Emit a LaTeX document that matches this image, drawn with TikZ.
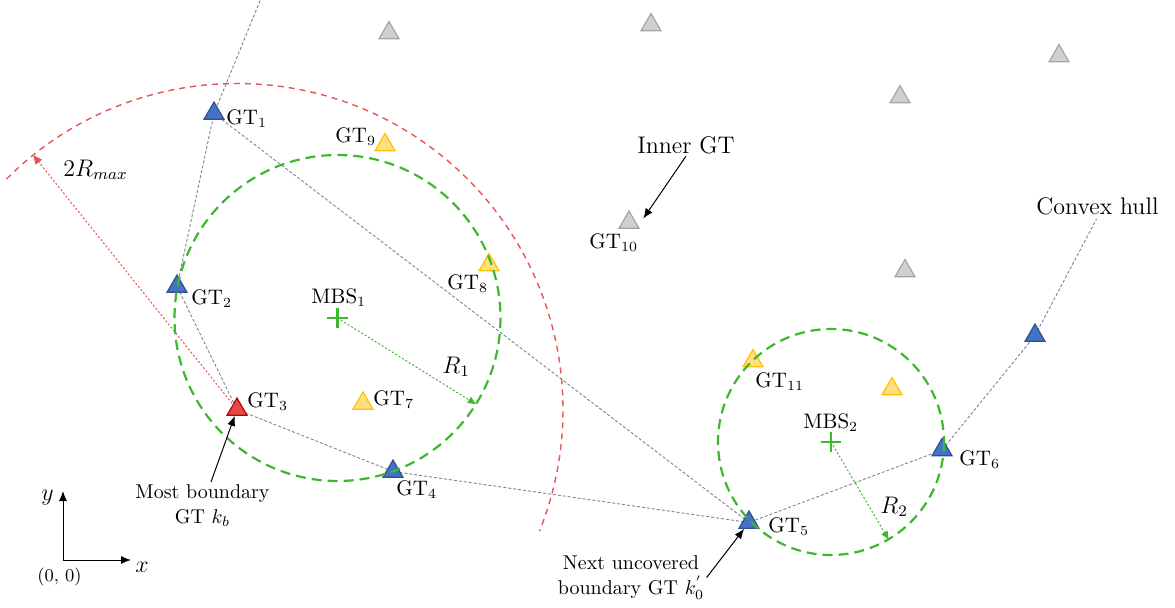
\documentclass[tikz,border=0pt]{standalone}
\usetikzlibrary{shapes.geometric,arrows.meta,calc,backgrounds}
\definecolor{gtblue}{HTML}{4472C4}
\definecolor{gtblueD}{HTML}{2F528F}
\definecolor{gtred}{HTML}{E04B4B}
\definecolor{gtredD}{HTML}{C00000}
\definecolor{gtyel}{HTML}{FFDF80}
\definecolor{gtyelD}{HTML}{FFC000}
\definecolor{gtgray}{HTML}{D0D0D0}
\definecolor{gtgrayD}{HTML}{A5A5A5}
\definecolor{mgreen}{HTML}{3DB82E}
\definecolor{rarc}{HTML}{E65555}
\definecolor{hull}{HTML}{77849A}
\begin{document}
\begin{tikzpicture}[x=0.5pt,y=-0.5pt,
  tri/.style={regular polygon, regular polygon sides=3, minimum size=11.5pt, inner sep=0pt, line width=0.6pt},
  blueT/.style={tri, fill=gtblue, draw=gtblueD},
  redT/.style={tri, fill=gtred, draw=gtredD},
  yelT/.style={tri, fill=gtyel, draw=gtyelD},
  grayT/.style={tri, fill=gtgray, draw=gtgrayD},
  lbl/.style={font=\fontsize{10.5}{12}\selectfont, inner sep=0pt, anchor=base west},
  biglbl/.style={font=\large, inner sep=0pt, anchor=base west},
  note/.style={font=\fontsize{10}{12.8}\selectfont, inner sep=1pt, align=center, anchor=north},
  hullline/.style={draw=hull, line width=0.45pt, dash pattern=on 1.5pt off 1pt},
  gcirc/.style={draw=mgreen, line width=1.1pt, dash pattern=on 5pt off 3pt},
  rarcS/.style={draw=rarc, line width=0.7pt, dash pattern=on 3pt off 2.5pt},
  garrow/.style={draw=mgreen, line width=0.5pt, dash pattern=on 1pt off 1pt, -{Triangle[length=4pt,width=3.5pt]}},
  rarrow/.style={draw=rarc, line width=0.5pt, dash pattern=on 1pt off 1pt, -{Triangle[length=4.5pt,width=4pt]}},
  karrow/.style={draw=black, line width=0.5pt, -{Latex[length=5pt,width=4pt]}},
  plusS/.style={draw=mgreen, line width=1.4pt},
  plusnode/.style={inner sep=0pt, minimum size=10pt},
]
\useasboundingbox (0,0) rectangle (1175,607);
\clip (0,0) rectangle (1175,607);

% ground terminals
\node[blueT] (gt1) at (214,113.5) {};
\node[blueT] (gt2) at (177,286.5) {};
\node[redT]  (gt3) at (237,409.5) {};
\node[blueT] (gt4) at (393,471.5) {};
\node[blueT] (gt5) at (749,522.5) {};
\node[blueT] (gt6) at (942,450) {};
\node[blueT] (gth) at (1035,335.5) {};
\node[yelT]  (gt7) at (363,403.5) {};
\node[yelT]  (gt8) at (489,265) {};
\node[yelT]  (gt9) at (385,145) {};
\node[grayT] (gt10) at (629,222.5) {};
\node[yelT]  (gt11) at (753,361) {};
\node[yelT]  (gty) at (892,389) {};
\node[grayT] (g1) at (389,33) {};
\node[grayT] (g2) at (651,25) {};
\node[grayT] (g3) at (1059,56) {};
\node[grayT] (g4) at (900,97) {};
\node[grayT] (g5) at (905,271) {};

% MBS
\node[plusnode] (mbs1) at (337.5,318) {};
\node[plusnode] (mbs2) at (831,442) {};
\draw[plusS] (mbs1.north) -- (mbs1.south) (mbs1.west) -- (mbs1.east);
\draw[plusS] (mbs2.north) -- (mbs2.south) (mbs2.west) -- (mbs2.east);

% labels
\node[lbl] (l1) at (226,124) {GT$_1$};
\node[lbl] (l2) at (191,304) {GT$_2$};
\node[lbl] (l3) at (247,407) {GT$_3$};
\node[lbl] (l4) at (396,495) {GT$_4$};
\node[lbl] (l5) at (768,532) {GT$_5$};
\node[lbl] (l6) at (959,465) {GT$_6$};
\node[lbl] (l7) at (373,405) {GT$_7$};
\node[lbl] (l8) at (447,289) {GT$_8$};
\node[lbl] (l9) at (335,142) {GT$_9$};
\node[lbl] (l10) at (589,248) {GT$_{10}$};
\node[lbl] (l11) at (755,387) {GT$_{11}$};
\node[lbl] (lm1) at (311,303) {MBS$_1$};
\node[lbl] (lm2) at (803,428) {MBS$_2$};
\node[biglbl] (lr1) at (442,373) {$R_1$};
\node[biglbl] (lr2) at (880,513) {$R_2$};
\node[biglbl] (lrm) at (63,176) {$2R_{max}$};

\node[font=\large, inner sep=1pt] (ig) at (686,145) {Inner GT};
\node[font=\large, inner sep=1pt] (ch) at (1097.5,206) {Convex hull};
\node[note] (mb) at (202.5,482) {Most boundary\\GT $k_b$};
\node[note] (nu) at (631,553) {Next uncovered\\boundary GT $k_0^{'}$};

% hull lines (behind)
\coordinate (top1) at (262,-4);
\begin{scope}[on background layer]
\draw[hullline] (top1) -- (gt1.center) -- (gt2.center) -- (gt3.center) -- (gt4.center) -- (gt5.center) -- (gt6.center) -- (gth.center);
\draw[hullline, shorten >=1pt] (gth.center) -- (ch.south);
\draw[hullline] (gt1.center) -- (gt5.center);
\end{scope}

% coverage circles
\draw[gcirc] (mbs1.center) circle[radius=163];
\draw[gcirc] (mbs2.center) circle[radius=113];
\draw[rarcS] ($(gt3.center)+(225:326)$) arc[start angle=225, end angle=381.9, radius=326];

% radius arrows
\coordinate (r1e) at ($(mbs1.center)+(31.9:163)$);
\coordinate (r2e) at ($(mbs2.center)+(59.4:113)$);
\coordinate (rme) at ($(gt3.center)+(231.3:326)$);
\draw[garrow] (mbs1.center) -- (r1e);
\draw[garrow] (mbs2.center) -- (r2e);
\draw[rarrow] (gt3.center) -- (rme);

% annotation arrows
\draw[karrow] (mb) -- (gt3);
\draw[karrow] (nu.east) -- (gt5);
\draw[karrow] (ig.south) -- ([shift={(7,-4)}]gt10.east);

% axes
\coordinate (o) at (63,560);
\coordinate (xe) at (131,560);
\coordinate (ye) at (63,491);
\draw[karrow] (o) -- (xe);
\draw[karrow] (o) -- (ye);
\node[biglbl] (xl) at (135,572) {$x$};
\node[biglbl] (yl) at (41,500) {$y$};
\node[font=\small, inner sep=0pt, anchor=base west] (ol) at (37,581) {(0, 0)};
\end{tikzpicture}
\end{document}
